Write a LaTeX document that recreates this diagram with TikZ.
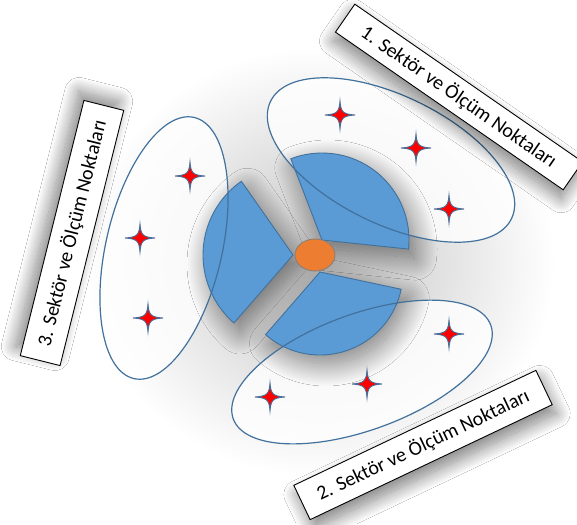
\documentclass[tikz,border=0pt]{standalone}
\usepackage{fontspec}
\setmainfont{Carlito}
\usetikzlibrary{shadows.blur,shapes.geometric}
\definecolor{wfill}{HTML}{5B9BD5}
\definecolor{wline}{HTML}{41719C}
\definecolor{orng}{HTML}{ED7D31}
\definecolor{oline}{HTML}{8A7F77}
\tikzset{
  ring/.style={draw=wline, line width=1.2pt},
  ringbg/.style={fill=white, fill opacity=0.8},
  wedge/.style={fill=wfill, draw=wline, line width=0.9pt},
  wshade/.style={blur shadow={shadow xshift=6pt, shadow yshift=-9pt, shadow blur radius=22pt, shadow opacity=50, shadow blur steps=28}},
  lbl/.style={draw=black, line width=0.9pt, fill=white, inner sep=0pt,
    font=\fontsize{20}{24}\selectfont},
  lshade/.style={blur shadow={shadow xshift=#1, shadow yshift=-9pt, shadow blur radius=14pt, shadow opacity=50, shadow blur steps=24}},
  lshadeup/.style={blur shadow={shadow xshift=-5pt, shadow yshift=9pt, shadow blur radius=14pt, shadow opacity=50, shadow blur steps=24}},
  starpt/.style={fill=red, draw=wline, line width=0.9pt},
  mstar/.pic={\path[starpt] (0,14) .. controls (0.8,3) and (3,0.8) .. (15,0)
      .. controls (3,-0.8) and (0.8,-3) .. (0,-14)
      .. controls (-0.8,-3) and (-3,-0.8) .. (-15,0)
      .. controls (-3,0.8) and (-0.8,3) .. (0,14) -- cycle;}
}
\begin{document}
\begin{tikzpicture}[x=1pt,y=1pt]
\useasboundingbox (0,0) rectangle (577,-524);
\fill[white] (0,0) rectangle (577,-524);

% soft overall glow
\begin{scope}
\clip (0,0) rectangle (577,-524);
\shade[inner color=black!24, outer color=white] (320,-262) ellipse [x radius=235, y radius=215];
\end{scope}

% ellipse backgrounds (lighter interior)
\path[ringbg, rotate around={-26:(391,-160)}] (391,-160) ellipse [x radius=134, y radius=64];
\path[ringbg, rotate around={20:(362,-372)}] (362,-372) ellipse [x radius=137, y radius=58];
\path[ringbg, rotate around={77:(164,-248)}] (164,-248) ellipse [x radius=134, y radius=58];

% wedges
\path[wedge, wshade] (322,-240) -- ++(-6:87) arc[start angle=-6, end angle=111, radius=87] -- cycle;
\path[wedge, wshade] (293,-255) -- ++(125:90) arc[start angle=125, end angle=229, radius=90] -- cycle;
\path[wedge, wshade] (320,-272) -- ++(-131:83) arc[start angle=-131, end angle=-12, radius=83] -- cycle;

% ellipse outlines
\draw[ring, rotate around={-26:(391,-160)}] (391,-160) ellipse [x radius=134, y radius=64];
\draw[ring, rotate around={20:(362,-372)}] (362,-372) ellipse [x radius=137, y radius=58];
\draw[ring, rotate around={77:(164,-248)}] (164,-248) ellipse [x radius=134, y radius=58];

% center
\node[ellipse, fill=orng, draw=oline, line width=0.9pt, minimum width=40, minimum height=32, inner sep=0pt] (hub) at (315,-255) {};

% measurement points
\coordinate (s1) at (340,-115);
\coordinate (s2) at (416,-148);
\coordinate (s3) at (449,-209);
\coordinate (s4) at (449,-334);
\coordinate (s5) at (367,-384);
\coordinate (s6) at (270,-397);
\coordinate (s7) at (190,-176);
\coordinate (s8) at (140,-238);
\coordinate (s9) at (148,-318);
\pic at (s1) {mstar};
\pic at (s2) {mstar};
\pic at (s3) {mstar};
\pic at (s4) {mstar};
\pic at (s5) {mstar};
\pic at (s6) {mstar};
\pic at (s7) {mstar};
\pic at (s8) {mstar};
\pic at (s9) {mstar};

% labels
\node[lbl, lshade=-2pt, rotate=-34.7, minimum width=277, minimum height=34] (l1) at (459,-97) {1. Sektör ve Ölçüm Noktaları};
\node[lbl, lshade=4pt, rotate=25.4, minimum width=268, minimum height=38] (l2) at (423,-445) {2. Sektör ve Ölçüm Noktaları};
\node[lbl, lshadeup, rotate=76, minimum width=263, minimum height=41] (l3) at (72,-233) {3. Sektör ve Ölçüm Noktaları};
\end{tikzpicture}
\end{document}
